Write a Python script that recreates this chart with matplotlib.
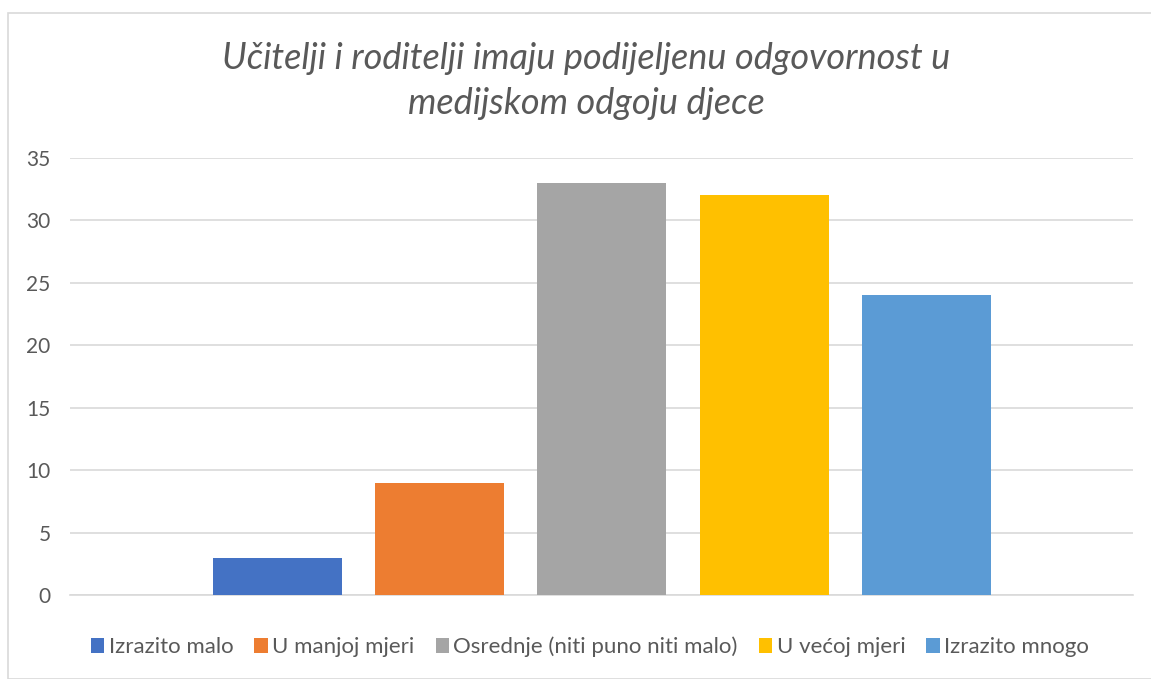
import matplotlib
matplotlib.use("Agg")
import matplotlib.pyplot as plt
from matplotlib.patches import Rectangle

categories = ["Izrazito malo", "U manjoj mjeri", "Osrednje (niti puno niti malo)", "U većoj mjeri", "Izrazito mnogo"]
values = [3, 9, 33, 32, 24]
colors = ["#4472C4", "#ED7D31", "#A5A5A5", "#FFC000", "#5B9BD5"]
yticks = [0, 5, 10, 15, 20, 25, 30, 35]
title = "Učitelji i roditelji imaju podijeljenu odgovornost u\nmedijskom odgoju djece"

plt.rcParams['font.family'] = ['Lato', 'DejaVu Sans']

W, H = 1151, 679
fig = plt.figure(figsize=(W / 100, H / 100), dpi=100)
fig.patch.set_facecolor("white")

# chart border
fig.add_artist(Rectangle((8 / W, 0), 1.2, 1 - 13 / H, transform=fig.transFigure,
                         fill=False, edgecolor="#d9d9d9", linewidth=1.2))

ax = fig.add_axes([70 / W, 1 - 595 / H, (1133 - 70) / W, (595 - 158) / H])
for i, (v, c, lab) in enumerate(zip(values, colors, categories)):
    ax.bar(i, v, width=0.794, color=c, label=lab, zorder=3)

ax.set_xlim(-1.274, 5.268)
ax.set_ylim(0, 35)
ax.set_yticks(yticks)
ax.set_xticks([])
ax.grid(axis="y", color="#d9d9d9", linewidth=1.2, zorder=0)
for s in ["top", "right", "left"]:
    ax.spines[s].set_visible(False)
ax.spines["bottom"].set_color("#d9d9d9")
ax.spines["bottom"].set_linewidth(1.2)
ax.tick_params(axis="y", length=0, pad=14, labelsize=15, labelcolor="#595959")

fig.text(586 / W, 1 - 81 / H, title, ha="center", va="center", fontsize=26,
         style="italic", color="#595959", linespacing=1.42)

handles, labels = ax.get_legend_handles_labels()
fig.legend(handles, labels, loc="center", bbox_to_anchor=(590 / W, 1 - 647 / H),
           ncol=5, frameon=False, fontsize=16, handlelength=0.6, handleheight=0.6,
           handletextpad=0.2, columnspacing=0.95, labelcolor="#595959")

fig.savefig("out.png", dpi=100, facecolor="white")
